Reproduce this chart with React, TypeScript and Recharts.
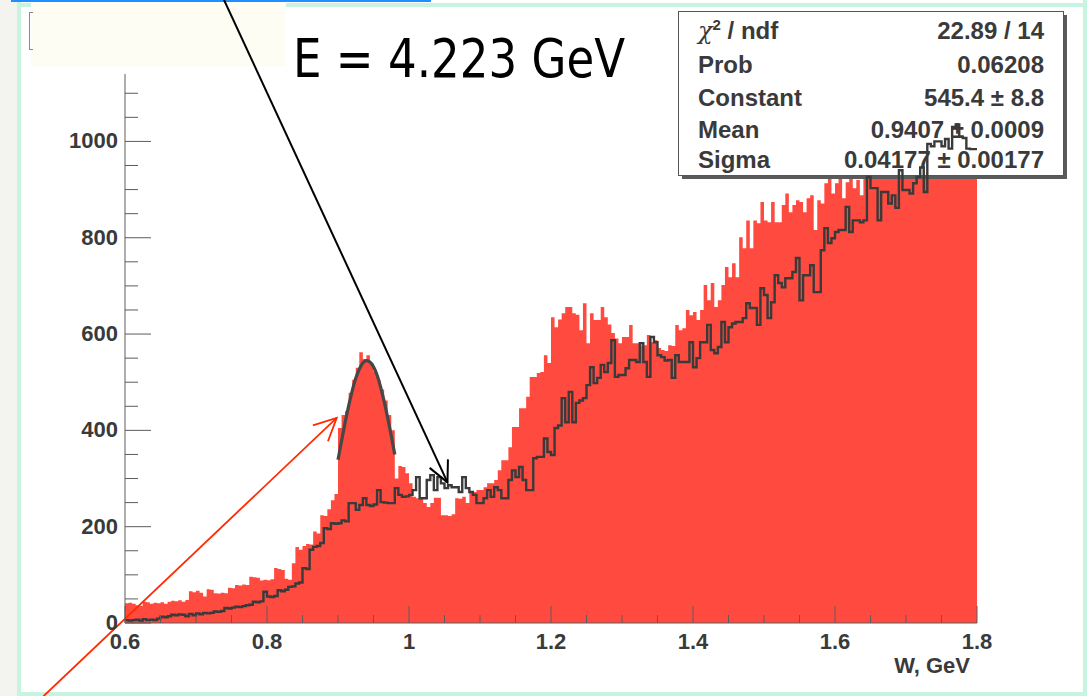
import React from "react"
import { ComposedChart, Area, Line, XAxis, YAxis, ReferenceLine } from "recharts"

const WIDTH = 1092
const HEIGHT = 696

const RED = "#ff4b3f"
const HIST_LINE = "#3a3a3a"
const AXIS = "#5c5c5c"
const TEXT = "#3a3a3a"
const FONT = "'Liberation Sans', Arial, Helvetica, sans-serif"
const MINT = "#c6f4e1"

// ── binning / axis ranges ─────────────────────────────
const BIN_START = 0.6
const BIN_WIDTH = 0.005
const X_MIN = 0.6
const X_MAX = 1.8
const Y_MAX = 1140

// red filled histogram, 240 bins of 5 MeV
const redCounts = [
  41, 42, 40, 37, 36, 44, 43, 40, 42, 41,
  43, 40, 44, 46, 45, 47, 44, 48, 66, 64,
  67, 63, 55, 70, 69, 62, 61, 63, 62, 73,
  72, 79, 78, 80, 79, 96, 95, 94, 88, 90,
  89, 91, 114, 112, 110, 92, 90, 124, 158, 152,
  160, 164, 163, 190, 186, 224, 222, 236, 255, 268,
  405, 432, 440, 478, 505, 530, 562, 548, 556, 540,
  522, 504, 485, 462, 432, 400, 300, 326, 324, 311,
  290, 262, 259, 259, 249, 241, 249, 260, 260, 224,
  224, 222, 226, 259, 258, 262, 249, 270, 272, 276,
  276, 282, 290, 290, 297, 317, 338, 338, 365, 407,
  407, 446, 446, 470, 511, 511, 519, 521, 556, 540,
  635, 614, 630, 643, 656, 656, 643, 640, 608, 664,
  581, 643, 629, 629, 656, 635, 620, 602, 591, 581,
  594, 594, 619, 581, 581, 577, 577, 598, 583, 587,
  571, 567, 565, 577, 575, 619, 608, 612, 650, 639,
  646, 629, 650, 702, 670, 706, 656, 670, 702, 739,
  718, 747, 718, 801, 778, 836, 778, 836, 830, 874,
  836, 832, 874, 832, 832, 868, 892, 853, 868, 878,
  874, 853, 882, 888, 816, 878, 871, 913, 926, 892,
  913, 924, 882, 915, 924, 903, 920, 888, 930, 945,
  960, 940, 975, 950, 985, 965, 990, 970, 1000, 985,
  1010, 990, 975, 1015, 1000, 995, 1020, 1005, 990, 1025,
  1010, 1000, 1030, 1015, 1020, 1005, 1035, 1020, 1010, 1025,
]

// black outline histogram, same binning
const blackCounts = [
  6, 5, 6, 7, 5, 8, 6, 7, 6, 9,
  13, 12, 14, 17, 16, 18, 17, 14, 19, 16,
  20, 18, 21, 20, 21, 24, 23, 25, 31, 30,
  32, 34, 33, 35, 37, 38, 44, 43, 45, 65,
  55, 54, 56, 68, 66, 69, 75, 76, 82, 84,
  114, 112, 152, 158, 160, 166, 197, 195, 207, 206,
  207, 213, 211, 249, 249, 235, 245, 259, 245, 243,
  246, 276, 251, 250, 249, 249, 280, 266, 262, 263,
  266, 276, 303, 259, 259, 297, 307, 276, 303, 290,
  280, 286, 282, 282, 272, 303, 280, 272, 266, 249,
  249, 259, 276, 262, 282, 276, 259, 259, 297, 317,
  303, 324, 297, 276, 276, 342, 345, 345, 383, 355,
  349, 405, 410, 467, 417, 480, 417, 457, 462, 467,
  494, 531, 498, 509, 536, 521, 540, 587, 511, 515,
  515, 529, 546, 546, 542, 581, 542, 511, 594, 583,
  556, 552, 545, 546, 509, 556, 542, 542, 542, 583,
  531, 550, 583, 583, 619, 567, 560, 573, 625, 583,
  614, 622, 625, 625, 633, 664, 654, 654, 619, 695,
  681, 633, 666, 722, 706, 697, 716, 716, 729, 758,
  670, 722, 722, 743, 687, 687, 774, 820, 789, 799,
  812, 816, 816, 864, 812, 836, 836, 832, 836, 926,
  903, 903, 836, 895, 895, 871, 888, 862, 940, 899,
  899, 892, 913, 926, 946, 895, 995, 990, 1000, 1000,
  990, 1005, 985, 1030, 1035, 1010, 1007, 985, 984, 984,
]

// gaussian fit curve
const fitW = [0.9, 0.905, 0.91, 0.915, 0.92, 0.925, 0.93, 0.935, 0.94, 0.945, 0.95, 0.955, 0.96, 0.965, 0.97, 0.975, 0.98]
const fitN = [339, 378, 416, 451, 482, 508, 527, 540, 545, 542, 532, 515, 490, 460, 426, 389, 350]

const xTicks = [
  0.6, 0.65, 0.7, 0.75, 0.8, 0.85, 0.9, 0.95, 1, 1.05, 1.1, 1.15, 1.2,
  1.25, 1.3, 1.35, 1.4, 1.45, 1.5, 1.55, 1.6, 1.65, 1.7, 1.75, 1.8,
]
const yTicks = [0, 50, 100, 150, 200, 250, 300, 350, 400, 450, 500, 550, 600, 650, 700, 750, 800, 850, 900, 950, 1000, 1050, 1100]

const statNames = ["Prob", "Constant", "Mean", "Sigma"]
const statValues = ["22.89 / 14", "0.06208", "545.4 \u00b1 8.8", "0.9407 \u00b1 0.0009", "0.04177 \u00b1 0.00177"]

// annotation arrows, in data units (they run off the frame)
const blackArrow = [{ x: 0.7394, y: 1294 }, { x: 1.0542, y: 292 }]
const redArrow = [{ x: 0.4852, y: -152 }, { x: 0.8982, y: 426 }]

const toSteps = (counts: number[]) => {
  const rows = counts.map((n, i) => ({ w: +(BIN_START + i * BIN_WIDTH).toFixed(3), n }))
  rows.push({ w: X_MAX, n: counts[counts.length - 1] })
  return rows
}
const redData = toSteps(redCounts)
const blackData = toSteps(blackCounts)
const fitData = fitW.map((w, i) => ({ w, n: fitN[i] }))

const fmtX = (v: number) => String(Math.round(v * 10) / 10)

const XTick = (props: any) => {
  const { x, y, payload } = props
  const v = payload.value
  const major = Math.abs(v * 5 - Math.round(v * 5)) < 1e-6
  return (
    <g>
      <line x1={x} y1={y} x2={x} y2={y - (major ? 17 : 8)} stroke={AXIS} strokeWidth={1} />
      {major && (
        <text x={x} y={y + 26} textAnchor="middle" fill={TEXT} fontFamily={FONT} fontWeight="bold" fontSize={22}>
          {fmtX(v)}
        </text>
      )}
    </g>
  )
}

const YTick = (props: any) => {
  const { x, y, payload } = props
  const v = payload.value
  const major = v % 200 === 0
  return (
    <g>
      <line x1={x} y1={y} x2={x + (major ? 26 : 13)} y2={y} stroke={AXIS} strokeWidth={1} />
      {major && (
        <text x={x - 7} y={y + 7} textAnchor="end" fill={TEXT} fontFamily={FONT} fontWeight="bold" fontSize={22}>
          {v}
        </text>
      )}
    </g>
  )
}

const XTitle = (p: any) => {
  const vb = p.viewBox ?? { x: 125, y: 623, width: 852, height: 73 }
  return (
    <text x={vb.x + vb.width - 7} y={vb.y + 50} textAnchor="end" fill={TEXT} fontFamily={FONT} fontWeight="bold" fontSize={22}>
      W, GeV
    </text>
  )
}

const arrowShape = (color: string, width: number, head: number) => (props: any) => {
  const { x1, y1, x2, y2 } = props
  const a = Math.atan2(y1 - y2, x1 - x2)
  const s = (26 * Math.PI) / 180
  const w1 = `${x2 + head * Math.cos(a + s)},${y2 + head * Math.sin(a + s)}`
  const w2 = `${x2 + head * Math.cos(a - s)},${y2 + head * Math.sin(a - s)}`
  return (
    <g>
      <line x1={x1} y1={y1} x2={x2} y2={y2} stroke={color} strokeWidth={width} />
      <polyline points={`${w1} ${x2},${y2} ${w2}`} fill="none" stroke={color} strokeWidth={width} />
    </g>
  )
}

const abs = (z: number): React.CSSProperties => ({ position: "absolute", left: 0, top: 0, zIndex: z })

function StatsBox() {
  const rowY = [30, 64, 97, 129, 159]
  return (
    <svg width={400} height={180} style={{ position: "absolute", left: 676, top: 9, zIndex: 3 }}>
      <rect x={6} y={6} width={385} height={164} fill="#5a5a5a" />
      <rect x={2.5} y={2.5} width={385} height={164} fill="#ffffff" stroke="#555" strokeWidth={1} />
      <g fill={TEXT} fontFamily={FONT} fontWeight="bold" fontSize={24}>
        <text x={22} y={rowY[0]}>
          <tspan fontFamily="'DejaVu Serif', serif" fontStyle="italic" fontWeight="normal">χ</tspan>
          <tspan dy={-9} fontSize={15}>2</tspan>
          <tspan dy={9}> / ndf</tspan>
        </text>
        {statNames.map((s, i) => (
          <text key={s} x={22} y={rowY[i + 1]}>{s}</text>
        ))}
        {statValues.map((s, i) => (
          <text key={s} x={368} y={rowY[i]} textAnchor="end">{s}</text>
        ))}
      </g>
    </svg>
  )
}

export default function App() {
  return (
    <div style={{ position: "absolute", left: 0, top: 0, width: WIDTH, height: HEIGHT, overflow: "hidden", background: "#ffffff" }}>
      {/* slide frame */}
      <div style={{ position: "absolute", left: 0, top: 0, width: 17, height: HEIGHT, background: "#f3f4ef" }} />
      <div style={{ position: "absolute", left: 17, top: 0, width: 4, height: HEIGHT, background: MINT }} />
      <div style={{ position: "absolute", left: 17, top: 3, width: 1070, height: 4, background: MINT }} />
      <div style={{ position: "absolute", left: 1083, top: 0, width: 4, height: HEIGHT, background: MINT }} />
      <div style={{ position: "absolute", left: 17, top: 692, width: 1070, height: 4, background: MINT }} />
      <div style={{ position: "absolute", left: 11, top: 0, width: 420, height: 2, background: "#1f8fff" }} />
      <div style={{ position: "absolute", left: 31, top: 3, width: 255, height: 63, background: "#fdfdf4" }} />
      <div style={{ position: "absolute", left: 29, top: 12, width: 3, height: 36, borderLeft: "1.5px solid #8a8a8a", borderTop: "1px solid #8a8a8a", borderBottom: "1px solid #8a8a8a" }} />

      {/* red histogram + frame */}
      <div style={abs(2)}>
        <ComposedChart width={WIDTH} height={HEIGHT} data={redData} margin={{ top: 74, right: 115, bottom: 73, left: 125 }}>
          <XAxis dataKey="w" type="number" domain={[X_MIN, X_MAX]} allowDataOverflow hide />
          <YAxis type="number" domain={[0, Y_MAX]} allowDataOverflow hide />
          <XAxis xAxisId="frame" orientation="top" type="number" domain={[X_MIN, X_MAX]} height={0} tick={false} tickLine={false} axisLine={{ stroke: AXIS }} />
          <YAxis yAxisId="frame" orientation="right" type="number" domain={[0, Y_MAX]} width={0} tick={false} tickLine={false} axisLine={{ stroke: AXIS }} />
          <Area type="stepAfter" dataKey="n" stroke="none" fill={RED} fillOpacity={1} isAnimationActive={false} />
        </ComposedChart>
      </div>

      <StatsBox />

      {/* outline histogram, fit, axes, arrows */}
      <div style={abs(4)}>
        <ComposedChart width={WIDTH} height={HEIGHT} margin={{ top: 74, right: 115, bottom: 0, left: 0 }}>
          <XAxis
            dataKey="w"
            type="number"
            domain={[X_MIN, X_MAX]}
            allowDataOverflow
            ticks={xTicks}
            interval={0}
            height={73}
            tickSize={0}
            tickMargin={0}
            tickLine={false}
            tick={XTick}
            axisLine={{ stroke: AXIS }}
            label={{ content: XTitle }}
          />
          <YAxis
            type="number"
            domain={[0, Y_MAX]}
            allowDataOverflow
            ticks={yTicks}
            interval={0}
            width={125}
            tickSize={0}
            tickMargin={0}
            tickLine={false}
            tick={YTick}
            axisLine={{ stroke: AXIS }}
          />
          <Line data={blackData} dataKey="n" type="stepAfter" stroke={HIST_LINE} strokeWidth={2.4} dot={false} isAnimationActive={false} />
          <Line data={fitData} dataKey="n" type="monotone" stroke="#474747" strokeWidth={3.2} dot={false} isAnimationActive={false} />
          <ReferenceLine segment={blackArrow} ifOverflow="visible" shape={arrowShape("#000000", 2, 23)} />
          <ReferenceLine segment={redArrow} ifOverflow="visible" shape={arrowShape("#ff2a00", 1.8, 25)} />
        </ComposedChart>
      </div>

      <svg width={520} height={110} style={{ position: "absolute", left: 280, top: 0, zIndex: 5, overflow: "visible" }}>
        <text x={13} y={77} textLength={332} lengthAdjust="spacingAndGlyphs" fontFamily="'Comic Sans MS', 'DejaVu Sans', sans-serif" fontSize={54} fill="#000">
          E = 4.223 GeV
        </text>
      </svg>
    </div>
  )
}
